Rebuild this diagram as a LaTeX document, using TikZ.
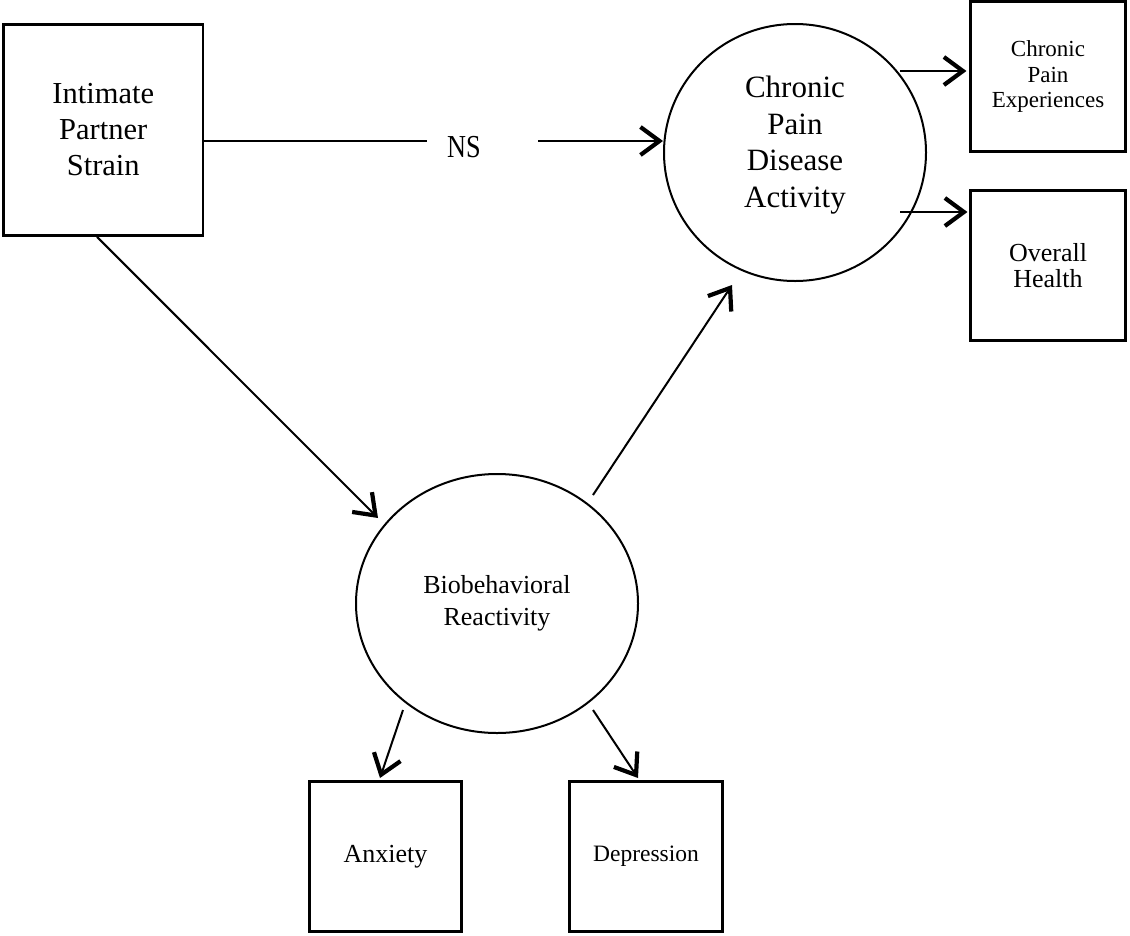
\documentclass[tikz,border=0pt]{standalone}
\usepackage{fontspec}
\setmainfont{Liberation Serif}
\usetikzlibrary{shapes.geometric,arrows.meta}

\tikzset{
  box/.style={draw, line width=2.7pt, inner sep=0pt, align=center},
  latent/.style={draw, ellipse, line width=2pt, inner sep=0pt},
  wire/.style={line width=2pt},
  arr/.style={wire, -{Straight Barb[length=19pt,width=28pt,line width=4.2pt 0 0]}},
}

\begin{document}
\begin{tikzpicture}[x=1pt,y=-1pt]
\useasboundingbox (0,0) rectangle (1130,935);

% observed measures
\node[box, minimum width=199.5pt, minimum height=211pt,
      font=\fontsize{30.5}{36}\selectfont] (ips) at (103.25,130) {Intimate\\Partner\\Strain};
\node[box, minimum width=155.4pt, minimum height=150.4pt,
      font=\fontsize{23}{25.5}\selectfont] (cpe) at (1048,76.5) {Chronic\\Pain\\Experiences};
\node[box, minimum width=155.4pt, minimum height=150.4pt,
      font=\fontsize{26}{26}\selectfont] (oh) at (1048,265.5) {Overall\\Health};
\node[box, minimum width=152.4pt, minimum height=150.4pt,
      font=\fontsize{26}{30}\selectfont] (anx) at (385.5,856.5) {Anxiety};
\node[box, minimum width=153.4pt, minimum height=150.4pt,
      font=\fontsize{23.5}{30}\selectfont] (dep) at (646,856.5) {Depression};

% latent constructs
\node[latent, minimum width=262pt, minimum height=257pt] (cpda) at (795,152.5) {};
\node[align=center, inner sep=0pt, font=\fontsize{31}{36.7}\selectfont] (cpdatext)
      at (795,145) {Chronic\\Pain\\Disease\\Activity};
\node[latent, minimum width=282pt, minimum height=259pt, align=center,
      font=\fontsize{26}{32}\selectfont] (bio) at (497,603.5) {Biobehavioral\\Reactivity};

% path label
\node[anchor=base, inner sep=0pt, font=\fontsize{32}{32}\selectfont] (ns) at (464,157)
      {\scalebox{0.82}[1]{NS}};

% connector end points
\coordinate (g1) at (427,141);
\coordinate (g2) at (538,141);
\coordinate (t1) at (378,518);
\coordinate (s2) at (593,495);
\coordinate (t2) at (732,285);
\coordinate (c1) at (900,71);
\coordinate (c2) at (900,212);
\coordinate (s3) at (403,710);
\coordinate (t3) at (380,778);
\coordinate (s4) at (593,710);
\coordinate (t4) at (638,778);

% direct path (not significant)
\draw[wire] (g1 -| ips.east) -- (g1);
\draw[arr] (g2) -- (g2 -| cpda.west);

% mediated path
\draw[arr] ([xshift=-6.25pt]ips.south) -- (t1);
\draw[arr] (s2) -- (t2);

% indicators
\draw[arr, shorten >=2.5pt] (c1) -- (c1 -| cpe.west);
\draw[arr, shorten >=1.5pt] (c2) -- (c2 -| oh.west);
\draw[arr] (s3) -- (t3);
\draw[arr] (s4) -- (t4);
\end{tikzpicture}
\end{document}
